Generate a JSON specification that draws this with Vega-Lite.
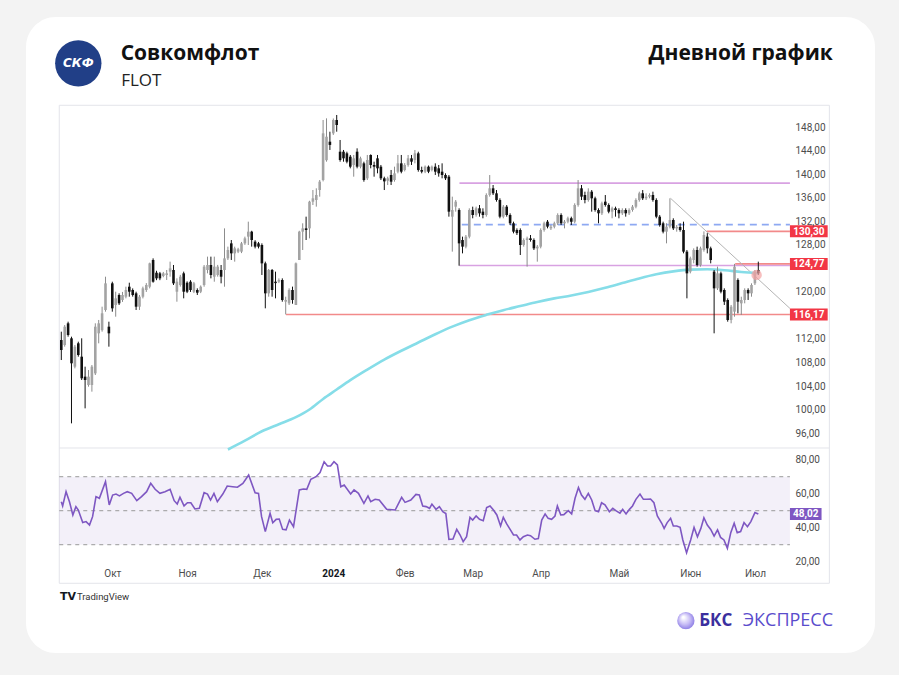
{
"$schema": "https://vega.github.io/schema/vega-lite/v6.json",
"width": 731, "height": 459,
"autosize": "none",
"padding": {"left": 59, "top": 105, "right": 109, "bottom": 111},
"background": "#f3f3f3",
"config": {
  "view": {"fill": null, "stroke": null},
  "locale": {"number": {"decimal": ",", "thousands": " ", "grouping": [3], "currency": ["", ""]}},
  "font": "Roboto",
  "scale": {"continuousPadding": 0},
  "axis": {"grid": false, "ticks": false, "domain": false, "labelFont": "Roboto", "labelFontSize": 10, "labelColor": "#4d4d4d", "labelFlush": false, "labelOverlap": false}
},
"datasets": {
  "candles": [
{"i":0,"o":111.82,"h":113.24,"l":108.42,"c":110.12},{"i":1,"o":110.97,"h":114.37,"l":110.69,"c":114.09},{"i":2,"o":114.66,"h":114.94,"l":112.39,"c":112.67},{"i":3,"o":112.11,"h":112.39,"l":97.65,"c":107.86},{"i":4,"o":107.29,"h":110.97,"l":107.0,"c":110.69},{"i":5,"o":111.26,"h":111.54,"l":108.99,"c":109.27},{"i":6,"o":108.99,"h":112.11,"l":105.02,"c":105.31},{"i":7,"o":105.59,"h":107.29,"l":100.2,"c":105.02},{"i":8,"o":104.17,"h":106.72,"l":103.89,"c":105.59},{"i":9,"o":104.17,"h":107.57,"l":103.04,"c":107.29},
{"i":10,"o":106.15,"h":114.66,"l":105.87,"c":114.09},{"i":11,"o":112.96,"h":115.23,"l":111.26,"c":114.66},{"i":12,"o":113.5,"h":117.49,"l":113.24,"c":116.36},{"i":13,"o":116.93,"h":122.59,"l":116.64,"c":121.46},{"i":14,"o":114.09,"h":114.94,"l":110.69,"c":112.96},{"i":15,"o":121.46,"h":121.74,"l":116.64,"c":117.21},{"i":16,"o":117.78,"h":120.04,"l":115.79,"c":118.91},{"i":17,"o":119.48,"h":119.76,"l":117.78,"c":118.06},{"i":18,"o":118.63,"h":120.0,"l":118.3,"c":119.48},{"i":19,"o":119.19,"h":120.89,"l":118.91,"c":120.33},
{"i":20,"o":120.89,"h":121.57,"l":119.19,"c":120.04},{"i":21,"o":120.33,"h":120.6,"l":119.2,"c":119.48},{"i":22,"o":119.76,"h":120.04,"l":116.93,"c":117.49},{"i":23,"o":117.49,"h":119.48,"l":116.93,"c":119.19},{"i":24,"o":119.19,"h":120.9,"l":118.9,"c":120.61},{"i":25,"o":120.33,"h":121.5,"l":120.0,"c":121.18},{"i":26,"o":120.89,"h":124.98,"l":120.6,"c":124.86},{"i":27,"o":125.43,"h":125.71,"l":121.57,"c":121.74},{"i":28,"o":123.27,"h":123.6,"l":122.0,"c":122.31},{"i":29,"o":123.16,"h":123.4,"l":122.0,"c":122.31},
{"i":30,"o":122.71,"h":123.4,"l":122.5,"c":123.16},{"i":31,"o":122.88,"h":123.73,"l":122.03,"c":123.16},{"i":32,"o":123.45,"h":125.15,"l":122.59,"c":124.01},{"i":33,"o":123.73,"h":124.58,"l":121.18,"c":121.46},{"i":34,"o":120.04,"h":122.31,"l":118.34,"c":121.74},{"i":35,"o":121.18,"h":122.9,"l":120.9,"c":122.59},{"i":36,"o":123.16,"h":123.45,"l":118.91,"c":120.04},{"i":37,"o":121.57,"h":121.8,"l":119.8,"c":120.04},{"i":38,"o":121.74,"h":122.0,"l":120.0,"c":120.33},{"i":39,"o":120.04,"h":121.7,"l":119.8,"c":121.46},
{"i":40,"o":120.33,"h":120.61,"l":119.48,"c":119.87},{"i":41,"o":120.04,"h":121.1,"l":119.8,"c":120.89},{"i":42,"o":121.18,"h":124.58,"l":120.89,"c":124.3},{"i":43,"o":123.73,"h":126.0,"l":123.16,"c":124.58},{"i":44,"o":124.58,"h":126.0,"l":122.31,"c":122.88},{"i":45,"o":122.59,"h":126.0,"l":121.74,"c":124.3},{"i":46,"o":122.88,"h":124.6,"l":122.6,"c":124.3},{"i":47,"o":123.73,"h":124.58,"l":121.46,"c":122.59},{"i":48,"o":123.73,"h":130.81,"l":120.89,"c":125.71},{"i":49,"o":125.71,"h":127.7,"l":125.43,"c":127.13},
{"i":50,"o":128.26,"h":128.83,"l":125.43,"c":126.56},{"i":51,"o":126.56,"h":127.7,"l":125.15,"c":127.41},{"i":52,"o":126.85,"h":127.5,"l":126.6,"c":127.25},{"i":53,"o":126.85,"h":128.5,"l":126.6,"c":128.26},{"i":54,"o":128.26,"h":129.4,"l":128.0,"c":129.11},{"i":55,"o":129.4,"h":131.95,"l":127.98,"c":130.25},{"i":56,"o":130.25,"h":130.4,"l":127.7,"c":128.83},{"i":57,"o":128.55,"h":128.8,"l":127.4,"c":127.7},{"i":58,"o":128.26,"h":128.5,"l":127.4,"c":127.7},{"i":59,"o":127.98,"h":128.26,"l":122.88,"c":124.86},
{"i":60,"o":124.86,"h":125.15,"l":117.21,"c":119.76},{"i":61,"o":119.76,"h":123.9,"l":119.19,"c":123.73},{"i":62,"o":123.73,"h":123.9,"l":119.19,"c":120.33},{"i":63,"o":121.74,"h":123.45,"l":118.91,"c":121.5},{"i":64,"o":121.74,"h":122.3,"l":121.5,"c":122.03},{"i":65,"o":122.03,"h":122.31,"l":118.34,"c":118.63},{"i":66,"o":118.34,"h":119.19,"l":116.17,"c":118.63},{"i":67,"o":118.06,"h":120.61,"l":117.78,"c":120.33},{"i":68,"o":120.33,"h":120.9,"l":118.0,"c":118.63},{"i":69,"o":117.78,"h":125.0,"l":117.78,"c":124.86},
{"i":70,"o":125.43,"h":130.4,"l":125.43,"c":130.25},{"i":71,"o":130.25,"h":131.67,"l":127.13,"c":130.81},{"i":72,"o":130.81,"h":132.8,"l":128.83,"c":130.53},{"i":73,"o":130.81,"h":135.5,"l":129.11,"c":135.35},{"i":74,"o":135.35,"h":137.33,"l":134.78,"c":135.92},{"i":75,"o":135.63,"h":137.62,"l":134.5,"c":136.48},{"i":76,"o":137.33,"h":139.03,"l":136.2,"c":138.75},{"i":77,"o":139.03,"h":149.24,"l":138.8,"c":146.97},{"i":78,"o":142.4,"h":149.52,"l":142.15,"c":146.4},{"i":79,"o":145.55,"h":147.25,"l":144.14,"c":145.0},
{"i":80,"o":146.97,"h":149.5,"l":146.7,"c":149.24},{"i":81,"o":149.24,"h":150.09,"l":147.25,"c":148.39},{"i":82,"o":143.85,"h":145.84,"l":142.15,"c":142.44},{"i":83,"o":143.85,"h":144.14,"l":142.15,"c":142.72},{"i":84,"o":143.57,"h":143.85,"l":141.87,"c":142.15},{"i":85,"o":143.0,"h":143.29,"l":141.02,"c":141.3},{"i":86,"o":141.59,"h":143.29,"l":139.6,"c":142.72},{"i":87,"o":143.85,"h":144.42,"l":141.02,"c":141.3},{"i":88,"o":141.3,"h":143.0,"l":141.02,"c":142.72},{"i":89,"o":141.87,"h":142.15,"l":138.75,"c":139.03},
{"i":90,"o":139.32,"h":143.29,"l":139.03,"c":142.44},{"i":91,"o":143.29,"h":143.4,"l":141.02,"c":141.59},{"i":92,"o":141.59,"h":142.15,"l":139.6,"c":141.3},{"i":93,"o":142.72,"h":143.29,"l":140.17,"c":141.02},{"i":94,"o":141.3,"h":141.59,"l":139.03,"c":139.32},{"i":95,"o":139.32,"h":139.6,"l":137.33,"c":138.8},{"i":96,"o":138.9,"h":139.6,"l":138.18,"c":139.32},{"i":97,"o":139.89,"h":140.74,"l":138.18,"c":138.75},{"i":98,"o":139.03,"h":141.3,"l":138.75,"c":140.17},{"i":99,"o":140.45,"h":143.29,"l":140.17,"c":141.87},
{"i":100,"o":141.87,"h":143.29,"l":140.17,"c":140.45},{"i":101,"o":140.74,"h":141.9,"l":140.5,"c":141.59},{"i":102,"o":141.59,"h":143.29,"l":141.3,"c":142.72},{"i":103,"o":142.72,"h":143.29,"l":141.59,"c":142.15},{"i":104,"o":142.44,"h":144.14,"l":141.87,"c":143.57},{"i":105,"o":143.57,"h":143.85,"l":140.45,"c":140.74},{"i":106,"o":140.74,"h":141.3,"l":140.17,"c":140.45},{"i":107,"o":140.45,"h":141.5,"l":140.2,"c":141.3},{"i":108,"o":141.3,"h":141.5,"l":140.2,"c":140.45},{"i":109,"o":140.74,"h":141.5,"l":140.5,"c":141.3},
{"i":110,"o":141.3,"h":141.87,"l":139.89,"c":140.45},{"i":111,"o":141.02,"h":141.59,"l":139.6,"c":140.17},{"i":112,"o":140.45,"h":141.87,"l":139.32,"c":139.89},{"i":113,"o":139.89,"h":140.17,"l":139.03,"c":139.32},{"i":114,"o":139.6,"h":139.88,"l":132.8,"c":133.65},{"i":115,"o":132.8,"h":136.2,"l":126.85,"c":133.93},{"i":116,"o":134.5,"h":135.63,"l":133.65,"c":135.35},{"i":117,"o":133.93,"h":134.22,"l":124.46,"c":128.26},{"i":118,"o":128.83,"h":129.4,"l":126.56,"c":127.7},{"i":119,"o":127.7,"h":129.68,"l":127.41,"c":129.4},
{"i":120,"o":129.4,"h":134.22,"l":129.11,"c":133.93},{"i":121,"o":133.93,"h":134.5,"l":132.52,"c":133.08},{"i":122,"o":133.08,"h":134.5,"l":132.8,"c":134.22},{"i":123,"o":134.22,"h":134.78,"l":132.8,"c":133.37},{"i":124,"o":133.65,"h":134.22,"l":132.52,"c":133.08},{"i":125,"o":133.08,"h":136.77,"l":132.8,"c":136.48},{"i":126,"o":136.48,"h":139.88,"l":136.2,"c":137.62},{"i":127,"o":137.62,"h":138.18,"l":136.48,"c":136.77},{"i":128,"o":136.77,"h":137.33,"l":135.35,"c":135.63},{"i":129,"o":135.63,"h":135.92,"l":132.52,"c":132.8},
{"i":130,"o":132.8,"h":134.78,"l":132.52,"c":134.5},{"i":131,"o":134.5,"h":134.78,"l":132.8,"c":133.08},{"i":132,"o":133.08,"h":133.37,"l":131.38,"c":131.67},{"i":133,"o":131.67,"h":131.95,"l":129.96,"c":130.25},{"i":134,"o":130.53,"h":130.81,"l":129.68,"c":130.0},{"i":135,"o":130.53,"h":130.81,"l":126.28,"c":127.98},{"i":136,"o":127.98,"h":129.11,"l":127.7,"c":128.83},{"i":137,"o":128.83,"h":129.4,"l":124.3,"c":129.11},{"i":138,"o":129.11,"h":129.68,"l":128.55,"c":128.83},{"i":139,"o":128.83,"h":129.11,"l":127.13,"c":127.41},
{"i":140,"o":127.41,"h":127.98,"l":125.15,"c":127.7},{"i":141,"o":127.7,"h":130.81,"l":127.41,"c":130.53},{"i":142,"o":130.53,"h":131.95,"l":130.25,"c":131.67},{"i":143,"o":131.95,"h":132.23,"l":130.81,"c":131.1},{"i":144,"o":130.81,"h":131.38,"l":130.53,"c":131.1},{"i":145,"o":131.1,"h":131.95,"l":130.81,"c":131.67},{"i":146,"o":131.67,"h":133.37,"l":131.38,"c":133.08},{"i":147,"o":133.08,"h":133.37,"l":131.38,"c":131.67},{"i":148,"o":131.67,"h":132.23,"l":130.81,"c":131.95},{"i":149,"o":131.95,"h":132.8,"l":131.67,"c":132.52},
{"i":150,"o":132.52,"h":132.8,"l":131.38,"c":131.95},{"i":151,"o":131.95,"h":135.07,"l":131.67,"c":134.78},{"i":152,"o":134.78,"h":139.03,"l":134.5,"c":137.62},{"i":153,"o":137.62,"h":138.18,"l":135.63,"c":136.2},{"i":154,"o":136.48,"h":137.05,"l":135.07,"c":135.63},{"i":155,"o":135.63,"h":137.62,"l":135.35,"c":137.05},{"i":156,"o":137.05,"h":137.33,"l":133.65,"c":135.92},{"i":157,"o":135.92,"h":136.2,"l":133.65,"c":133.93},{"i":158,"o":133.93,"h":134.22,"l":131.67,"c":133.37},{"i":159,"o":133.37,"h":135.35,"l":133.08,"c":135.07},
{"i":160,"o":135.35,"h":136.48,"l":134.5,"c":134.78},{"i":161,"o":134.78,"h":135.07,"l":133.37,"c":133.65},{"i":162,"o":133.65,"h":134.5,"l":132.52,"c":134.22},{"i":163,"o":134.22,"h":134.5,"l":132.8,"c":133.93},{"i":164,"o":133.93,"h":134.22,"l":132.52,"c":133.37},{"i":165,"o":133.37,"h":134.22,"l":133.08,"c":133.93},{"i":166,"o":133.93,"h":134.22,"l":132.8,"c":133.37},{"i":167,"o":133.37,"h":134.22,"l":133.08,"c":133.93},{"i":168,"o":133.93,"h":134.78,"l":133.65,"c":134.5},{"i":169,"o":134.5,"h":135.92,"l":134.22,"c":135.63},
{"i":170,"o":135.63,"h":137.05,"l":135.35,"c":136.77},{"i":171,"o":136.77,"h":137.33,"l":135.63,"c":135.92},{"i":172,"o":135.92,"h":136.77,"l":135.63,"c":136.2},{"i":173,"o":136.2,"h":136.77,"l":135.92,"c":136.48},{"i":174,"o":136.48,"h":137.05,"l":135.35,"c":135.63},{"i":175,"o":135.63,"h":135.92,"l":132.52,"c":132.8},{"i":176,"o":132.8,"h":133.08,"l":131.1,"c":131.38},{"i":177,"o":131.67,"h":131.95,"l":129.96,"c":130.25},{"i":178,"o":130.25,"h":131.67,"l":128.26,"c":131.1},{"i":179,"o":131.1,"h":135.92,"l":130.81,"c":132.23},
{"i":180,"o":132.23,"h":132.52,"l":130.53,"c":130.81},{"i":181,"o":130.81,"h":131.38,"l":130.25,"c":131.05},{"i":182,"o":131.05,"h":131.67,"l":130.25,"c":130.53},{"i":183,"o":130.53,"h":131.95,"l":126.56,"c":126.85},{"i":184,"o":126.85,"h":127.13,"l":118.91,"c":123.16},{"i":185,"o":123.45,"h":126.0,"l":123.16,"c":125.71},{"i":186,"o":125.43,"h":127.41,"l":124.86,"c":127.13},{"i":187,"o":127.13,"h":127.7,"l":124.3,"c":124.58},{"i":188,"o":124.58,"h":127.7,"l":124.3,"c":127.41},{"i":189,"o":127.13,"h":130.3,"l":126.85,"c":129.68},
{"i":190,"o":129.4,"h":130.0,"l":126.56,"c":127.41},{"i":191,"o":127.41,"h":127.7,"l":124.86,"c":125.43},{"i":192,"o":123.45,"h":123.73,"l":112.96,"c":120.61},{"i":193,"o":120.61,"h":124.3,"l":120.33,"c":123.16},{"i":194,"o":123.16,"h":123.45,"l":119.76,"c":120.04},{"i":195,"o":120.33,"h":120.61,"l":117.78,"c":118.34},{"i":196,"o":118.63,"h":118.91,"l":114.94,"c":115.23},{"i":197,"o":115.23,"h":117.78,"l":114.66,"c":117.49},{"i":198,"o":116.64,"h":124.77,"l":115.79,"c":124.3},{"i":199,"o":122.03,"h":122.31,"l":116.36,"c":118.34},
{"i":200,"o":118.06,"h":119.19,"l":116.08,"c":118.63},{"i":201,"o":118.63,"h":120.61,"l":118.06,"c":120.33},{"i":202,"o":120.33,"h":120.61,"l":118.63,"c":119.76},{"i":203,"o":119.76,"h":121.46,"l":119.19,"c":121.18},{"i":204,"o":121.46,"h":123.73,"l":121.18,"c":123.45},{"i":205,"o":123.73,"h":125.15,"l":122.88,"c":123.16}
  ],
  "ma": [
{"i":49,"v":93.2},{"i":54,"v":94.7},{"i":59,"v":96.3},{"i":64,"v":97.5},{"i":69,"v":98.7},{"i":73,"v":100.0},{"i":77,"v":101.8},{"i":81,"v":103.4},{"i":85,"v":105.0},{"i":90,"v":106.8},{"i":95,"v":108.5},{"i":100,"v":110.0},{"i":105,"v":111.4},{"i":110,"v":112.8},{"i":115,"v":114.1},{"i":120,"v":115.2},{"i":125,"v":116.1},{"i":130,"v":116.9},{"i":135,"v":117.6},{"i":140,"v":118.3},{"i":145,"v":118.9},{"i":150,"v":119.4},{"i":155,"v":120.0},{"i":160,"v":120.7},{"i":165,"v":121.5},{"i":170,"v":122.3},{"i":175,"v":123.0},{"i":180,"v":123.5},{"i":185,"v":123.8},{"i":190,"v":123.85},{"i":195,"v":123.7},{"i":200,"v":123.4},{"i":205,"v":123.2}
  ],
  "levels": [
{"kind":"channel","v":138.5,"start":117.1},{"kind":"channel","v":124.5,"start":117.1},{"kind":"mid","v":131.45,"start":117.8},{"kind":"level","v":116.17,"start":66.1},{"kind":"level","v":130.3,"start":189.8},{"kind":"level","v":124.77,"start":198.2}
  ],
  "trend": [{"i":179.2,"v":135.92},{"i":214.3,"v":117.2}],
  "marker": [{"i":204.5,"v":122.9}],
  "rsiLevels": [{"r":70},{"r":50},{"r":30}],
  "rsi": [
{"i":0,"r":55.3},{"i":0.4,"r":52.8},{"i":1.4,"r":61.2},{"i":2.4,"r":55.3},{"i":3.4,"r":47.5},{"i":4.3,"r":52.4},{"i":5,"r":50.4},{"i":6.3,"r":43},{"i":7.3,"r":43.6},{"i":8.3,"r":41.6},{"i":9.2,"r":46.5},{"i":10.2,"r":58.3},{"i":11.2,"r":57.3},{"i":13,"r":67.1},{"i":14.1,"r":53.4},{"i":15.1,"r":59.2},{"i":16.1,"r":59.8},{"i":17.1,"r":58.7},{"i":18.3,"r":60.2},{"i":19.4,"r":61.2},{"i":20.7,"r":60.2},{"i":22.2,"r":55.9},{"i":23.6,"r":58.3},{"i":25.1,"r":61.2},{"i":26.3,"r":66.1},{"i":27.6,"r":62.6},{"i":29,"r":60.2},{"i":30.5,"r":61.2},{"i":32,"r":62.6},{"i":33.2,"r":55.9},{"i":34.1,"r":53.9},{"i":34.9,"r":57.9},{"i":36.1,"r":52.8},{"i":37.1,"r":54.7},{"i":38.1,"r":54.7},{"i":39.3,"r":51},{"i":40.6,"r":51.4},{"i":42,"r":60.6},{"i":43,"r":59.8},{"i":43.9,"r":56.3},{"i":44.9,"r":60.2},{"i":45.9,"r":55.3},{"i":47.5,"r":59.8},{"i":48.8,"r":64.5},{"i":50.4,"r":64.1},{"i":51.8,"r":63.8},{"i":53.4,"r":66.1},{"i":55.1,"r":71},{"i":57,"r":60.6},{"i":58,"r":60.2},{"i":58.9,"r":46.5},{"i":60,"r":37.7},{"i":61.4,"r":48.5},{"i":62.2,"r":42.9},{"i":63.2,"r":44.9},{"i":64.1,"r":45.1},{"i":65.1,"r":39},{"i":66.1,"r":38.7},{"i":67.1,"r":44.5},{"i":68.3,"r":40.6},{"i":70,"r":62.2},{"i":71.2,"r":62.8},{"i":72.2,"r":62.6},{"i":73.4,"r":68.5},{"i":74.9,"r":70},{"i":76.1,"r":72.4},{"i":77.3,"r":78.8},{"i":78.3,"r":76.3},{"i":79.2,"r":76.3},{"i":80.2,"r":78.8},{"i":81.2,"r":76.9},{"i":82.2,"r":64.1},{"i":83.2,"r":65.1},{"i":85.1,"r":59.8},{"i":86.1,"r":62.2},{"i":87.4,"r":60.2},{"i":89,"r":54.3},{"i":90.2,"r":58.7},{"i":91,"r":55.3},{"i":92.3,"r":56.7},{"i":93.5,"r":56.3},{"i":95.7,"r":50.8},{"i":98.2,"r":50.4},{"i":100.1,"r":57.9},{"i":101.1,"r":54.9},{"i":102.8,"r":56.3},{"i":104.3,"r":59.6},{"i":105.3,"r":59.2},{"i":106.3,"r":52.8},{"i":107.3,"r":52.4},{"i":108.3,"r":51.4},{"i":109,"r":53.9},{"i":110.2,"r":50.8},{"i":111.2,"r":52.4},{"i":112.2,"r":49.4},{"i":113.1,"r":48.3},{"i":114,"r":33.2},{"i":115.2,"r":33.4},{"i":116.3,"r":39},{"i":117.3,"r":35.7},{"i":118.2,"r":31.8},{"i":119.2,"r":34.7},{"i":120.2,"r":46.1},{"i":121,"r":44.5},{"i":122,"r":46.9},{"i":123,"r":44.9},{"i":124.1,"r":44.1},{"i":125.1,"r":51.8},{"i":126.1,"r":52.8},{"i":127.1,"r":50.4},{"i":128.1,"r":47.5},{"i":129.2,"r":41},{"i":130,"r":46.1},{"i":131,"r":42.2},{"i":132,"r":39},{"i":133,"r":35.7},{"i":133.9,"r":35.7},{"i":134.9,"r":32.8},{"i":135.9,"r":34.7},{"i":137.1,"r":35.7},{"i":138,"r":35.3},{"i":139.3,"r":33.2},{"i":140.3,"r":33.6},{"i":141.3,"r":44.5},{"i":142.3,"r":48.1},{"i":143.2,"r":45.5},{"i":144.2,"r":44.9},{"i":145.2,"r":46.9},{"i":145.9,"r":52.8},{"i":146.9,"r":47.5},{"i":147.8,"r":47.7},{"i":149.1,"r":50},{"i":150.1,"r":48.1},{"i":151.1,"r":57.3},{"i":152.1,"r":63.6},{"i":153,"r":59.2},{"i":154,"r":56.7},{"i":155,"r":60.2},{"i":156,"r":56.3},{"i":157,"r":50},{"i":158,"r":49.4},{"i":158.9,"r":54.7},{"i":159.9,"r":53.4},{"i":161.2,"r":49.4},{"i":162.2,"r":51.4},{"i":163.1,"r":50},{"i":164.3,"r":48.5},{"i":165.1,"r":50.8},{"i":166.1,"r":48.1},{"i":167.1,"r":50.8},{"i":168,"r":52.8},{"i":169,"r":56.7},{"i":170.2,"r":59.8},{"i":171.2,"r":56.7},{"i":172.2,"r":56.7},{"i":173.3,"r":56.9},{"i":174.3,"r":54.7},{"i":175.3,"r":46.9},{"i":176.6,"r":42.6},{"i":177.3,"r":39.6},{"i":178.2,"r":43},{"i":179.2,"r":45.5},{"i":180,"r":41},{"i":181,"r":41},{"i":182,"r":40.2},{"i":182.8,"r":32.8},{"i":183.9,"r":25.3},{"i":185.1,"r":32.8},{"i":186.1,"r":40.2},{"i":187.1,"r":34.7},{"i":188.1,"r":39.6},{"i":189,"r":45.9},{"i":190,"r":41.6},{"i":191,"r":39},{"i":192,"r":35.1},{"i":193,"r":38.7},{"i":193.9,"r":34.3},{"i":194.9,"r":32.8},{"i":195.9,"r":27.9},{"i":196.9,"r":37.1},{"i":197.9,"r":42.6},{"i":198.8,"r":37.1},{"i":199.8,"r":37.7},{"i":200.8,"r":43},{"i":201.8,"r":40.6},{"i":202.8,"r":43.6},{"i":204,"r":48.9},{"i":205,"r":48.02}
  ]
},
"resolve": {"scale": {"y": "independent"}, "axis": {"y": "independent"}},
"layer": [
  {
    "layer": [
      {"data": {"values": [{}]},
       "mark": {"type": "rect", "fill": "#ffffff", "cornerRadius": 30},
       "encoding": {
         "x": {"datum": -10.38, "type": "quantitative", "scale": {"domain": [-0.676, 214.32], "nice": false, "zero": false, "padding": 0}},
         "x2": {"datum": 239.32},
         "y": {"datum": 166.76, "type": "quantitative", "scale": {"domain": [73.73, 151.79], "nice": false, "zero": false, "padding": 0},
               "axis": {"orient": "right", "zindex": 1, "values": [96,100,104,108,112,120,128,132,136,140,144,148], "format": ".2f", "ticks": false, "domain": false, "grid": false, "labelPadding": 5, "labelFontSize": 10, "labelColor": "#4d4d4d", "labelFont": "Roboto", "title": null, "labelOverlap": false, "labelFlush": false, "labelBaseline": "middle"}},
         "y2": {"datum": 58.6}
       }},
      {"data": {"values": [{}]},
       "mark": {"type": "rect", "fill": "transparent", "stroke": "#e3e4ea", "strokeWidth": 1},
       "encoding": {
         "x": {"datum": -0.6, "type": "quantitative", "scale": {"domain": [-0.676, 214.32], "nice": false, "zero": false, "padding": 0}},
         "x2": {"datum": 225.9},
         "y": {"datum": 151.74, "type": "quantitative", "scale": {"domain": [73.73, 151.79], "nice": false, "zero": false, "padding": 0}},
         "y2": {"datum": 70.45}
       }},
      {"data": {"values": [{}]},
       "mark": {"type": "rule", "stroke": "#e3e4ea", "strokeWidth": 1},
       "encoding": {
         "x": {"datum": -0.6, "type": "quantitative", "scale": {"domain": [-0.676, 214.32], "nice": false, "zero": false, "padding": 0}},
         "x2": {"datum": 225.9},
         "y": {"datum": 93.46, "type": "quantitative", "scale": {"domain": [73.73, 151.79], "nice": false, "zero": false, "padding": 0}}
       }},
      {"data": {"name": "levels"},
       "mark": {"type": "rule", "strokeWidth": 1.6},
       "encoding": {
         "x": {"field": "start", "type": "quantitative", "scale": {"domain": [-0.676, 214.32], "nice": false, "zero": false, "padding": 0}},
         "x2": {"datum": 214.3},
         "y": {"field": "v", "type": "quantitative", "scale": {"domain": [73.73, 151.79], "nice": false, "zero": false, "padding": 0}},
         "color": {"field": "kind", "type": "nominal", "scale": {"domain": ["channel", "mid", "level"], "range": ["#d8a2e2", "#8ea9f2", "#f28a8a"]}, "legend": null},
         "strokeDash": {"field": "kind", "type": "nominal", "scale": {"domain": ["channel", "mid", "level"], "range": [[1, 0], [7, 5], [1, 0]]}, "legend": null}
       }},
      {"data": {"name": "trend"},
       "mark": {"type": "line", "stroke": "#b4b4b4", "strokeWidth": 1},
       "encoding": {
         "x": {"field": "i", "type": "quantitative", "scale": {"domain": [-0.676, 214.32], "nice": false, "zero": false, "padding": 0}},
         "y": {"field": "v", "type": "quantitative", "scale": {"domain": [73.73, 151.79], "nice": false, "zero": false, "padding": 0}}
       }},
      {"data": {"name": "ma"},
       "mark": {"type": "line", "stroke": "#86dde8", "strokeWidth": 2.6, "interpolate": "monotone"},
       "encoding": {
         "x": {"field": "i", "type": "quantitative", "scale": {"domain": [-0.676, 214.32], "nice": false, "zero": false, "padding": 0}},
         "y": {"field": "v", "type": "quantitative", "scale": {"domain": [73.73, 151.79], "nice": false, "zero": false, "padding": 0}}
       }},
      {"data": {"name": "candles"},
       "mark": {"type": "rule", "strokeWidth": 1},
       "encoding": {
         "x": {"field": "i", "type": "quantitative", "scale": {"domain": [-0.676, 214.32], "nice": false, "zero": false, "padding": 0}},
         "y": {"field": "l", "type": "quantitative", "scale": {"domain": [73.73, 151.79], "nice": false, "zero": false, "padding": 0}},
         "y2": {"field": "h"},
         "color": {"condition": {"test": "datum.c >= datum.o", "value": "#8c8c8c"}, "value": "#111111"}
       }},
      {"data": {"name": "candles"},
       "mark": {"type": "bar", "size": 2.6},
       "encoding": {
         "x": {"field": "i", "type": "quantitative", "scale": {"domain": [-0.676, 214.32], "nice": false, "zero": false, "padding": 0}},
         "y": {"field": "o", "type": "quantitative", "scale": {"domain": [73.73, 151.79], "nice": false, "zero": false, "padding": 0},
               "axis": {"orient": "right", "zindex": 1, "values": [96,100,104,108,112,120,128,132,136,140,144,148], "format": ".2f", "ticks": false, "domain": false, "grid": false, "labelPadding": 5, "labelFontSize": 10, "labelColor": "#4d4d4d", "labelFont": "Roboto", "title": null, "labelOverlap": false, "labelFlush": false, "labelBaseline": "middle"}},
         "y2": {"field": "c"},
         "color": {"condition": {"test": "datum.c >= datum.o", "value": "#a3a3a3"}, "value": "#111111"}
       }},
      {"data": {"name": "marker"},
       "mark": {"type": "circle", "size": 110, "color": "#f3a3a3", "opacity": 0.7},
       "encoding": {
         "x": {"field": "i", "type": "quantitative", "scale": {"domain": [-0.676, 214.32], "nice": false, "zero": false, "padding": 0}},
         "y": {"field": "v", "type": "quantitative", "scale": {"domain": [73.73, 151.79], "nice": false, "zero": false, "padding": 0}}
       }},
      {"data": {"name": "levels"},
       "transform": [{"filter": "datum.kind == 'level'"}],
       "mark": {"type": "rect", "color": "#f23645", "yOffset": -6, "y2Offset": 6},
       "encoding": {
         "x": {"datum": 214.3, "type": "quantitative", "scale": {"domain": [-0.676, 214.32], "nice": false, "zero": false, "padding": 0}},
         "x2": {"datum": 225.4},
         "y": {"field": "v", "type": "quantitative", "scale": {"domain": [73.73, 151.79], "nice": false, "zero": false, "padding": 0}},
         "y2": {"field": "v"}
       }},
      {"data": {"name": "levels"},
       "transform": [{"filter": "datum.kind == 'level'"}],
       "mark": {"type": "text", "color": "#ffffff", "fontSize": 10, "fontWeight": "bold", "font": "Roboto", "align": "center", "baseline": "middle", "dy": 0.5},
       "encoding": {
         "x": {"datum": 219.85, "type": "quantitative", "scale": {"domain": [-0.676, 214.32], "nice": false, "zero": false, "padding": 0}},
         "y": {"field": "v", "type": "quantitative", "scale": {"domain": [73.73, 151.79], "nice": false, "zero": false, "padding": 0}},
         "text": {"field": "v", "type": "quantitative", "format": ".2f"}
       }},
      {"data": {"values": [{}]},
       "mark": {"type": "circle", "size": 2150, "color": "#213f87", "opacity": 1},
       "encoding": {
         "x": {"datum": 5.0, "type": "quantitative", "scale": {"domain": [-0.676, 214.32], "nice": false, "zero": false, "padding": 0}},
         "y": {"datum": 158.88, "type": "quantitative", "scale": {"domain": [73.73, 151.79], "nice": false, "zero": false, "padding": 0}}
       }},
      {"data": {"values": [{}]},
       "mark": {"type": "text", "text": "СКФ", "color": "#ffffff", "fontSize": 12, "fontWeight": "bold", "fontStyle": "italic", "font": "DejaVu Sans", "align": "center", "baseline": "middle"},
       "encoding": {
         "x": {"datum": 5.0, "type": "quantitative", "scale": {"domain": [-0.676, 214.32], "nice": false, "zero": false, "padding": 0}},
         "y": {"datum": 158.88, "type": "quantitative", "scale": {"domain": [73.73, 151.79], "nice": false, "zero": false, "padding": 0}}
       }},
      {"data": {"values": [{}]},
       "mark": {"type": "text", "text": "Совкомфлот", "color": "#111111", "fontSize": 21, "fontWeight": "bold", "font": "Open Sans", "align": "left", "baseline": "alphabetic"},
       "encoding": {
         "x": {"datum": 17.47, "type": "quantitative", "scale": {"domain": [-0.676, 214.32], "nice": false, "zero": false, "padding": 0}},
         "y": {"datum": 159.45, "type": "quantitative", "scale": {"domain": [73.73, 151.79], "nice": false, "zero": false, "padding": 0}}
       }},
      {"data": {"values": [{}]},
       "mark": {"type": "text", "text": "FLOT", "color": "#222222", "fontSize": 17, "font": "Open Sans", "align": "left", "baseline": "alphabetic"},
       "encoding": {
         "x": {"datum": 17.6, "type": "quantitative", "scale": {"domain": [-0.676, 214.32], "nice": false, "zero": false, "padding": 0}},
         "y": {"datum": 155.07, "type": "quantitative", "scale": {"domain": [73.73, 151.79], "nice": false, "zero": false, "padding": 0}}
       }},
      {"data": {"values": [{}]},
       "mark": {"type": "text", "text": "Дневной график", "color": "#111111", "fontSize": 21, "fontWeight": "bold", "font": "Open Sans", "align": "right", "baseline": "alphabetic"},
       "encoding": {
         "x": {"datum": 226.9, "type": "quantitative", "scale": {"domain": [-0.676, 214.32], "nice": false, "zero": false, "padding": 0}},
         "y": {"datum": 159.45, "type": "quantitative", "scale": {"domain": [73.73, 151.79], "nice": false, "zero": false, "padding": 0}}
       }},
      {"data": {"values": [{}]},
       "mark": {"type": "text", "text": "TV", "color": "#131722", "fontSize": 11, "fontWeight": "bold", "font": "DejaVu Sans", "align": "left", "baseline": "middle"},
       "encoding": {
         "x": {"datum": -0.4, "type": "quantitative", "scale": {"domain": [-0.676, 214.32], "nice": false, "zero": false, "padding": 0}},
         "y": {"datum": 68.2, "type": "quantitative", "scale": {"domain": [73.73, 151.79], "nice": false, "zero": false, "padding": 0}}
       }},
      {"data": {"values": [{}]},
       "mark": {"type": "text", "text": "TradingView", "color": "#333333", "fontSize": 9.5, "font": "Roboto", "align": "left", "baseline": "middle"},
       "encoding": {
         "x": {"datum": 4.6, "type": "quantitative", "scale": {"domain": [-0.676, 214.32], "nice": false, "zero": false, "padding": 0}},
         "y": {"datum": 68.2, "type": "quantitative", "scale": {"domain": [73.73, 151.79], "nice": false, "zero": false, "padding": 0}}
       }},
      {"data": {"values": [{}]},
       "mark": {"type": "circle", "size": 300, "opacity": 1, "color": {"gradient": "radial", "x1": 0.35, "y1": 0.3, "r1": 0.05, "x2": 0.5, "y2": 0.5, "r2": 0.6, "stops": [{"offset": 0, "color": "#ffffff"}, {"offset": 0.5, "color": "#c8bdf6"}, {"offset": 1, "color": "#7b6be0"}]}},
       "encoding": {
         "x": {"datum": 183.7, "type": "quantitative", "scale": {"domain": [-0.676, 214.32], "nice": false, "zero": false, "padding": 0}},
         "y": {"datum": 64.09, "type": "quantitative", "scale": {"domain": [73.73, 151.79], "nice": false, "zero": false, "padding": 0}}
       }},
      {"data": {"values": [{}]},
       "mark": {"type": "text", "text": "БКС", "color": "#3b2f9e", "fontSize": 17, "fontWeight": "bold", "font": "Open Sans", "align": "left", "baseline": "middle"},
       "encoding": {
         "x": {"datum": 187.6, "type": "quantitative", "scale": {"domain": [-0.676, 214.32], "nice": false, "zero": false, "padding": 0}},
         "y": {"datum": 64.09, "type": "quantitative", "scale": {"domain": [73.73, 151.79], "nice": false, "zero": false, "padding": 0}}
       }},
      {"data": {"values": [{}]},
       "mark": {"type": "text", "text": "ЭКСПРЕСС", "color": "#5a4ccc", "fontSize": 18, "font": "Open Sans", "align": "right", "baseline": "middle"},
       "encoding": {
         "x": {"datum": 226.97, "type": "quantitative", "scale": {"domain": [-0.676, 214.32], "nice": false, "zero": false, "padding": 0}},
         "y": {"datum": 64.09, "type": "quantitative", "scale": {"domain": [73.73, 151.79], "nice": false, "zero": false, "padding": 0}}
       }}
    ]
  },
  {
    "layer": [
      {"data": {"values": [{}]},
       "mark": {"type": "rect", "color": "#7e57c2", "opacity": 0.09},
       "encoding": {
         "x": {"datum": -0.6, "type": "quantitative", "scale": {"domain": [-0.676, 214.32], "nice": false, "zero": false, "padding": 0},
               "axis": {"orient": "bottom", "zindex": 1, "values": [15,37,59,80,101,121,141,164,185,204], "labelExpr": "datum.value == 15 ? 'Окт' : datum.value == 37 ? 'Ноя' : datum.value == 59 ? 'Дек' : datum.value == 80 ? '2024' : datum.value == 101 ? 'Фев' : datum.value == 121 ? 'Мар' : datum.value == 141 ? 'Апр' : datum.value == 164 ? 'Май' : datum.value == 185 ? 'Июн' : 'Июл'", "ticks": false, "domain": false, "grid": false, "labelPadding": 4, "labelFontSize": 10, "labelFont": "Roboto", "labelColor": {"condition": {"test": "datum.value == 80", "value": "#131722"}, "value": "#4d4d4d"}, "labelFontWeight": {"condition": {"test": "datum.value == 80", "value": "bold"}, "value": "normal"}, "title": null, "labelFlush": false, "labelOverlap": false}},
         "x2": {"datum": 214.3},
         "y": {"datum": 70, "type": "quantitative", "scale": {"domain": [18.65, 288.65], "nice": false, "zero": false, "padding": 0},
               "axis": {"orient": "right", "zindex": 1, "values": [20, 40, 60, 80], "format": ".2f", "ticks": false, "domain": false, "grid": false, "labelPadding": 5, "labelFontSize": 10, "labelColor": "#4d4d4d", "labelFont": "Roboto", "title": null, "labelOverlap": false, "labelFlush": false, "labelBaseline": "middle"}},
         "y2": {"datum": 30}
       }},
      {"data": {"name": "rsiLevels"},
       "mark": {"type": "rule", "stroke": "#9a9a9a", "strokeWidth": 1, "strokeDash": [4, 4]},
       "encoding": {
         "x": {"datum": -0.6, "type": "quantitative", "scale": {"domain": [-0.676, 214.32], "nice": false, "zero": false, "padding": 0}},
         "x2": {"datum": 214.3},
         "y": {"field": "r", "type": "quantitative", "scale": {"domain": [18.65, 288.65], "nice": false, "zero": false, "padding": 0}}
       }},
      {"data": {"name": "rsi"},
       "mark": {"type": "line", "stroke": "#7e57c2", "strokeWidth": 1.6},
       "encoding": {
         "x": {"field": "i", "type": "quantitative", "scale": {"domain": [-0.676, 214.32], "nice": false, "zero": false, "padding": 0},
               "axis": {"orient": "bottom", "zindex": 1, "values": [15,37,59,80,101,121,141,164,185,204], "labelExpr": "datum.value == 15 ? 'Окт' : datum.value == 37 ? 'Ноя' : datum.value == 59 ? 'Дек' : datum.value == 80 ? '2024' : datum.value == 101 ? 'Фев' : datum.value == 121 ? 'Мар' : datum.value == 141 ? 'Апр' : datum.value == 164 ? 'Май' : datum.value == 185 ? 'Июн' : 'Июл'", "ticks": false, "domain": false, "grid": false, "labelPadding": 4, "labelFontSize": 10, "labelFont": "Roboto", "labelColor": {"condition": {"test": "datum.value == 80", "value": "#131722"}, "value": "#4d4d4d"}, "labelFontWeight": {"condition": {"test": "datum.value == 80", "value": "bold"}, "value": "normal"}, "title": null, "labelFlush": false, "labelOverlap": false}},
         "y": {"field": "r", "type": "quantitative", "scale": {"domain": [18.65, 288.65], "nice": false, "zero": false, "padding": 0},
               "axis": {"orient": "right", "zindex": 1, "values": [20, 40, 60, 80], "format": ".2f", "ticks": false, "domain": false, "grid": false, "labelPadding": 5, "labelFontSize": 10, "labelColor": "#4d4d4d", "labelFont": "Roboto", "title": null, "labelOverlap": false, "labelFlush": false, "labelBaseline": "middle"}}
       }},
      {"data": {"name": "rsi"},
       "transform": [{"filter": "datum.i == 205"}],
       "mark": {"type": "rect", "color": "#7e57c2", "yOffset": -6, "y2Offset": 6},
       "encoding": {
         "x": {"datum": 214.3, "type": "quantitative", "scale": {"domain": [-0.676, 214.32], "nice": false, "zero": false, "padding": 0}},
         "x2": {"datum": 223.6},
         "y": {"field": "r", "type": "quantitative", "scale": {"domain": [18.65, 288.65], "nice": false, "zero": false, "padding": 0}},
         "y2": {"field": "r"}
       }},
      {"data": {"name": "rsi"},
       "transform": [{"filter": "datum.i == 205"}],
       "mark": {"type": "text", "color": "#ffffff", "fontSize": 10, "fontWeight": "bold", "font": "Roboto", "align": "center", "baseline": "middle"},
       "encoding": {
         "x": {"datum": 218.95, "type": "quantitative", "scale": {"domain": [-0.676, 214.32], "nice": false, "zero": false, "padding": 0}},
         "y": {"field": "r", "type": "quantitative", "scale": {"domain": [18.65, 288.65], "nice": false, "zero": false, "padding": 0}},
         "text": {"field": "r", "type": "quantitative", "format": ".2f"}
       }}
    ]
  }
]
}
